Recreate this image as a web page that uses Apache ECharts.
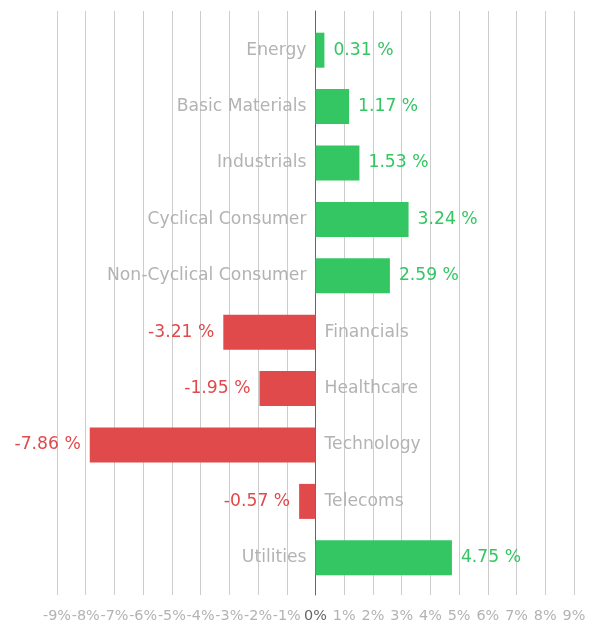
<!DOCTYPE html>
<html>
<head>
<meta charset="utf-8">
<script src="https://cdn.jsdelivr.net/npm/echarts@6/dist/echarts.min.js"></script>
<style>
  html, body { margin: 0; padding: 0; background: #fff; }
  #chart { width: 596px; height: 624px; }
</style>
</head>
<body>
<div id="chart"></div>
<script>
// Sector performance, percent change
const sectors = ['Energy', 'Basic Materials', 'Industrials', 'Cyclical Consumer', 'Non-Cyclical Consumer',
                 'Financials', 'Healthcare', 'Technology', 'Telecoms', 'Utilities'];
const changes = [0.31, 1.17, 1.53, 3.24, 2.59, -3.21, -1.95, -7.86, -0.57, 4.75];
const tickValues = [-9, -8, -7, -6, -5, -4, -3, -2, -1, 0, 1, 2, 3, 4, 5, 6, 7, 8, 9];

const GREEN = '#33c663';
const RED = '#e04a4b';
const GREY_TEXT = '#b3b3b3';
const FONT = 'DejaVu Sans, Verdana, sans-serif';
const LABEL_SIZE = 17.2;
const TICK_SIZE = 14.4;

const valueData = changes.map(v => ({
  value: v,
  itemStyle: { color: v >= 0 ? GREEN : RED },
  label: { position: v >= 0 ? 'right' : 'left', color: v >= 0 ? GREEN : RED }
}));

const nameData = changes.map((v, i) => ({
  value: v,
  label: { position: v >= 0 ? 'left' : 'right', formatter: sectors[i] }
}));

const chart = echarts.init(document.getElementById('chart'), null, { renderer: 'canvas' });

chart.setOption({
  animation: false,
  textStyle: { fontFamily: FONT },
  grid: [
    { left: 57, right: 22, top: 22, bottom: 38 },   // bars
    { left: 57, right: 22, top: 11, bottom: 29 }    // vertical grid lines + tick labels
  ],
  xAxis: [
    { gridIndex: 0, type: 'value', min: tickValues[0], max: tickValues[tickValues.length - 1], show: false },
    {
      gridIndex: 1, type: 'value', min: tickValues[0], max: tickValues[tickValues.length - 1], interval: 1,
      axisLine: { show: false },
      axisTick: { show: false },
      splitLine: { show: true, lineStyle: { color: '#cccccc', width: 1 } },
      axisLabel: {
        margin: 14,
        fontSize: TICK_SIZE,
        fontFamily: FONT,
        color: GREY_TEXT,
        formatter: v => v === 0 ? '{z|0%}' : v + '%',
        rich: { z: { color: '#666666', fontSize: TICK_SIZE, fontFamily: FONT } }
      }
    }
  ],
  yAxis: [
    { gridIndex: 0, type: 'category', inverse: true, data: sectors, show: false },
    {
      gridIndex: 1, type: 'value', min: 0, max: 1,
      axisLine: { show: true, onZero: true, lineStyle: { color: '#666666', width: 1 } },
      axisTick: { show: false },
      axisLabel: { show: false },
      splitLine: { show: false }
    }
  ],
  series: [
    {
      type: 'bar',
      xAxisIndex: 0, yAxisIndex: 0,
      barWidth: 35,
      data: valueData,
      label: {
        show: true,
        distance: 9,
        fontSize: LABEL_SIZE,
        fontFamily: FONT,
        formatter: p => p.value + ' %'
      }
    },
    {
      type: 'bar',
      xAxisIndex: 0, yAxisIndex: 0,
      barWidth: 35,
      barGap: '-100%',
      silent: true,
      itemStyle: { color: 'rgba(0,0,0,0)' },
      data: nameData,
      label: {
        show: true,
        distance: 9,
        fontSize: LABEL_SIZE,
        fontFamily: FONT,
        color: GREY_TEXT
      }
    }
  ]
});
</script>
</body>
</html>
